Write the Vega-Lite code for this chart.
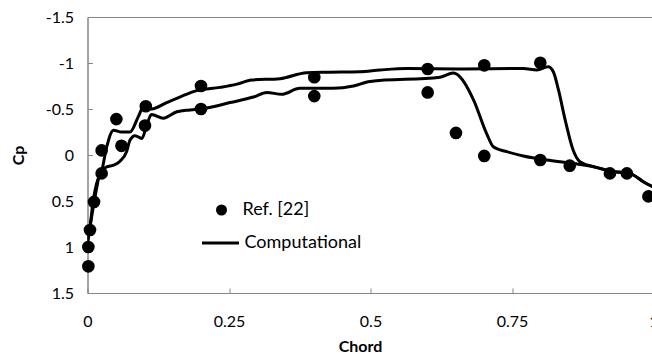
{
  "$schema": "https://vega.github.io/schema/vega-lite/v6.json",
  "width": 566,
  "height": 276,
  "autosize": {"type": "none"},
  "padding": {"left": 87.5, "top": 17, "right": 0, "bottom": 65},
  "background": "white",
  "config": {
    "font": "Lato",
    "view": {"stroke": "#868686", "strokeWidth": 1},
    "axis": {"grid": false, "domainColor": "#868686", "tickColor": "#868686", "labelColor": "#000", "titleColor": "#000", "labelFont": "Lato", "titleFont": "Lato", "labelFontSize": 16, "titleFontSize": 16, "titleFontWeight": "bold"}
  },
  "datasets": {
    "lines": [
      {"surface": "upper", "series": "Computational", "x": 0.0, "cp": 0.95},
      {"surface": "upper", "series": "Computational", "x": 0.004, "cp": 0.8},
      {"surface": "upper", "series": "Computational", "x": 0.01, "cp": 0.5},
      {"surface": "upper", "series": "Computational", "x": 0.016, "cp": 0.31},
      {"surface": "upper", "series": "Computational", "x": 0.025, "cp": 0.18},
      {"surface": "upper", "series": "Computational", "x": 0.034, "cp": -0.09},
      {"surface": "upper", "series": "Computational", "x": 0.046, "cp": -0.27},
      {"surface": "upper", "series": "Computational", "x": 0.06, "cp": -0.25},
      {"surface": "upper", "series": "Computational", "x": 0.075, "cp": -0.25},
      {"surface": "upper", "series": "Computational", "x": 0.09, "cp": -0.42},
      {"surface": "upper", "series": "Computational", "x": 0.099, "cp": -0.525},
      {"surface": "upper", "series": "Computational", "x": 0.113, "cp": -0.5},
      {"surface": "upper", "series": "Computational", "x": 0.14, "cp": -0.57},
      {"surface": "upper", "series": "Computational", "x": 0.163, "cp": -0.63},
      {"surface": "upper", "series": "Computational", "x": 0.193, "cp": -0.7},
      {"surface": "upper", "series": "Computational", "x": 0.234, "cp": -0.735},
      {"surface": "upper", "series": "Computational", "x": 0.264, "cp": -0.77},
      {"surface": "upper", "series": "Computational", "x": 0.29, "cp": -0.815},
      {"surface": "upper", "series": "Computational", "x": 0.34, "cp": -0.83},
      {"surface": "upper", "series": "Computational", "x": 0.387, "cp": -0.895},
      {"surface": "upper", "series": "Computational", "x": 0.428, "cp": -0.9},
      {"surface": "upper", "series": "Computational", "x": 0.481, "cp": -0.905},
      {"surface": "upper", "series": "Computational", "x": 0.517, "cp": -0.924},
      {"surface": "upper", "series": "Computational", "x": 0.564, "cp": -0.94},
      {"surface": "upper", "series": "Computational", "x": 0.658, "cp": -0.935},
      {"surface": "upper", "series": "Computational", "x": 0.77, "cp": -0.94},
      {"surface": "upper", "series": "Computational", "x": 0.794, "cp": -0.925},
      {"surface": "upper", "series": "Computational", "x": 0.814, "cp": -0.96},
      {"surface": "upper", "series": "Computational", "x": 0.823, "cp": -0.905},
      {"surface": "upper", "series": "Computational", "x": 0.832, "cp": -0.71},
      {"surface": "upper", "series": "Computational", "x": 0.844, "cp": -0.38},
      {"surface": "upper", "series": "Computational", "x": 0.858, "cp": -0.054},
      {"surface": "upper", "series": "Computational", "x": 0.87, "cp": 0.073},
      {"surface": "upper", "series": "Computational", "x": 0.894, "cp": 0.127},
      {"surface": "upper", "series": "Computational", "x": 0.929, "cp": 0.18},
      {"surface": "upper", "series": "Computational", "x": 0.958, "cp": 0.2},
      {"surface": "upper", "series": "Computational", "x": 0.982, "cp": 0.29},
      {"surface": "upper", "series": "Computational", "x": 1.0, "cp": 0.35},
      {"surface": "lower", "series": "Computational", "x": 0.0, "cp": 0.95},
      {"surface": "lower", "series": "Computational", "x": 0.004, "cp": 0.8},
      {"surface": "lower", "series": "Computational", "x": 0.012, "cp": 0.5},
      {"surface": "lower", "series": "Computational", "x": 0.018, "cp": 0.3},
      {"surface": "lower", "series": "Computational", "x": 0.022, "cp": 0.18},
      {"surface": "lower", "series": "Computational", "x": 0.034, "cp": 0.13},
      {"surface": "lower", "series": "Computational", "x": 0.046, "cp": 0.11},
      {"surface": "lower", "series": "Computational", "x": 0.057, "cp": 0.07},
      {"surface": "lower", "series": "Computational", "x": 0.069, "cp": -0.036},
      {"surface": "lower", "series": "Computational", "x": 0.075, "cp": -0.16},
      {"surface": "lower", "series": "Computational", "x": 0.084, "cp": -0.21},
      {"surface": "lower", "series": "Computational", "x": 0.096, "cp": -0.18},
      {"surface": "lower", "series": "Computational", "x": 0.105, "cp": -0.33},
      {"surface": "lower", "series": "Computational", "x": 0.113, "cp": -0.44},
      {"surface": "lower", "series": "Computational", "x": 0.134, "cp": -0.4},
      {"surface": "lower", "series": "Computational", "x": 0.158, "cp": -0.47},
      {"surface": "lower", "series": "Computational", "x": 0.181, "cp": -0.49},
      {"surface": "lower", "series": "Computational", "x": 0.21, "cp": -0.51},
      {"surface": "lower", "series": "Computational", "x": 0.252, "cp": -0.57},
      {"surface": "lower", "series": "Computational", "x": 0.293, "cp": -0.63},
      {"surface": "lower", "series": "Computational", "x": 0.317, "cp": -0.68},
      {"surface": "lower", "series": "Computational", "x": 0.343, "cp": -0.66},
      {"surface": "lower", "series": "Computational", "x": 0.375, "cp": -0.725},
      {"surface": "lower", "series": "Computational", "x": 0.434, "cp": -0.725},
      {"surface": "lower", "series": "Computational", "x": 0.47, "cp": -0.75},
      {"surface": "lower", "series": "Computational", "x": 0.499, "cp": -0.8},
      {"surface": "lower", "series": "Computational", "x": 0.623, "cp": -0.845},
      {"surface": "lower", "series": "Computational", "x": 0.646, "cp": -0.89},
      {"surface": "lower", "series": "Computational", "x": 0.658, "cp": -0.85},
      {"surface": "lower", "series": "Computational", "x": 0.682, "cp": -0.6},
      {"surface": "lower", "series": "Computational", "x": 0.705, "cp": -0.235},
      {"surface": "lower", "series": "Computational", "x": 0.717, "cp": -0.09},
      {"surface": "lower", "series": "Computational", "x": 0.741, "cp": -0.036},
      {"surface": "lower", "series": "Computational", "x": 0.77, "cp": 0.01},
      {"surface": "lower", "series": "Computational", "x": 0.811, "cp": 0.054},
      {"surface": "lower", "series": "Computational", "x": 0.858, "cp": 0.09},
      {"surface": "lower", "series": "Computational", "x": 0.894, "cp": 0.127},
      {"surface": "lower", "series": "Computational", "x": 0.929, "cp": 0.18},
      {"surface": "lower", "series": "Computational", "x": 0.958, "cp": 0.2},
      {"surface": "lower", "series": "Computational", "x": 0.982, "cp": 0.29},
      {"surface": "lower", "series": "Computational", "x": 1.0, "cp": 0.35}
    ],
    "points": [
      {"series": "Ref. [22]", "x": 0.0015, "cp": 1.21},
      {"series": "Ref. [22]", "x": 0.0015, "cp": 1.0},
      {"series": "Ref. [22]", "x": 0.0044, "cp": 0.815},
      {"series": "Ref. [22]", "x": 0.0115, "cp": 0.51},
      {"series": "Ref. [22]", "x": 0.025, "cp": 0.2},
      {"series": "Ref. [22]", "x": 0.025, "cp": -0.05},
      {"series": "Ref. [22]", "x": 0.051, "cp": -0.39},
      {"series": "Ref. [22]", "x": 0.06, "cp": -0.1},
      {"series": "Ref. [22]", "x": 0.103, "cp": -0.53},
      {"series": "Ref. [22]", "x": 0.1016, "cp": -0.32},
      {"series": "Ref. [22]", "x": 0.2005, "cp": -0.75},
      {"series": "Ref. [22]", "x": 0.2005, "cp": -0.5},
      {"series": "Ref. [22]", "x": 0.4007, "cp": -0.845},
      {"series": "Ref. [22]", "x": 0.4007, "cp": -0.64},
      {"series": "Ref. [22]", "x": 0.601, "cp": -0.935},
      {"series": "Ref. [22]", "x": 0.601, "cp": -0.68},
      {"series": "Ref. [22]", "x": 0.651, "cp": -0.24},
      {"series": "Ref. [22]", "x": 0.701, "cp": -0.975},
      {"series": "Ref. [22]", "x": 0.701, "cp": 0.01},
      {"series": "Ref. [22]", "x": 0.8, "cp": -1.003},
      {"series": "Ref. [22]", "x": 0.8, "cp": 0.054},
      {"series": "Ref. [22]", "x": 0.852, "cp": 0.116},
      {"series": "Ref. [22]", "x": 0.923, "cp": 0.2},
      {"series": "Ref. [22]", "x": 0.953, "cp": 0.2},
      {"series": "Ref. [22]", "x": 0.991, "cp": 0.45}
    ]
  },
  "encoding": {
    "x": {"field": "x", "type": "quantitative", "title": "Chord",
      "scale": {"domain": [0, 1], "nice": false, "zero": false},
      "axis": {"values": [0, 0.25, 0.5, 0.75, 1], "labelExpr": "datum.value + ''", "tickSize": -5, "labelPadding": 25, "titleX": 272.5, "titleY": 45, "labelFlush": false}},
    "y": {"field": "cp", "type": "quantitative", "title": "Cp",
      "scale": {"domain": [-1.5, 1.5], "reverse": true, "nice": false, "zero": false},
      "axis": {"values": [-1.5, -1, -0.5, 0, 0.5, 1, 1.5], "labelExpr": "datum.value + ''", "tickSize": -5, "labelPadding": 19, "titlePadding": 19, "labelFlush": false}}
  },
  "layer": [
    {
      "data": {"name": "lines"},
      "mark": {"type": "line", "strokeWidth": 3, "interpolate": "monotone", "clip": true},
      "encoding": {
        "detail": {"field": "surface", "type": "nominal"},
        "color": {"field": "series", "type": "nominal",
          "scale": {"range": ["#000000"]},
          "legend": {"orient": "none", "legendX": 113, "legendY": 206, "title": null, "symbolType": "stroke", "symbolSize": 1369, "symbolStrokeWidth": 3, "labelFontSize": 18, "labelFont": "Lato", "labelColor": "#000", "labelOffset": 4, "padding": 0}}
      }
    },
    {
      "data": {"name": "points"},
      "mark": {"type": "point", "filled": true, "opacity": 1, "color": "#000", "size": 160},
      "encoding": {
        "shape": {"field": "series", "type": "nominal",
          "scale": {"range": ["circle"]},
          "legend": {"orient": "none", "legendX": 125, "legendY": 184, "title": null, "symbolSize": 121, "symbolFillColor": "#000", "symbolStrokeColor": "#000", "symbolOpacity": 1, "labelFontSize": 18, "labelFont": "Lato", "labelColor": "#000", "labelOffset": 12, "padding": 0}}
      }
    }
  ]
}
